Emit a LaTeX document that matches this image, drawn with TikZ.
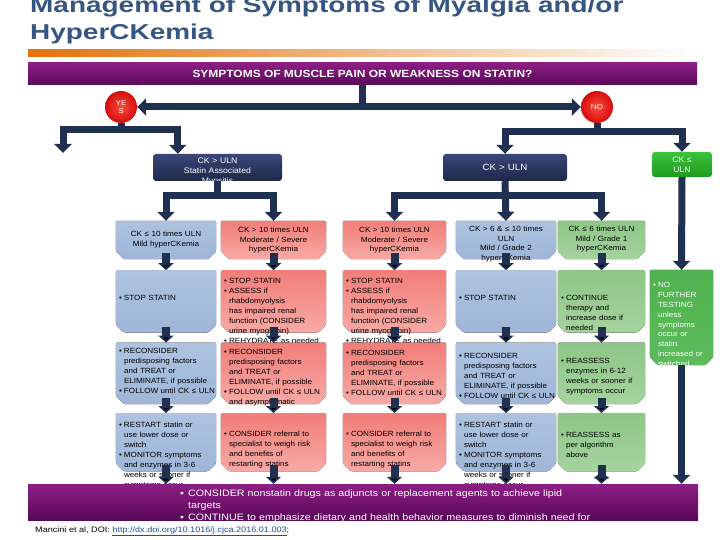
\documentclass[tikz,border=0pt]{standalone}
\usepackage{fontspec}
\setmainfont{Liberation Sans}[FakeStretch=1.15]
\newfontfamily\titleFont{Liberation Sans}[FakeStretch=1.3]
\newfontfamily\cellFont{Liberation Sans}[FakeStretch=1.08]
\usepackage{tikz}
\usetikzlibrary{
  arrows.meta,
  positioning
}
\usepackage{xcolor}
\definecolor{navyArrow}{HTML}{1F3050}
\definecolor{navyTop}{HTML}{3A4778}
\definecolor{navyBot}{HTML}{1D2749}
\definecolor{titleBlue}{HTML}{365682}
\definecolor{barTop}{HTML}{8C1E84}
\definecolor{barBot}{HTML}{5A0858}
\definecolor{blueTop}{HTML}{ADC3E0}
\definecolor{blueBot}{HTML}{9FB6D8}
\definecolor{pinkTop}{HTML}{F27D78}
\definecolor{pinkBot}{HTML}{F7AAA6}
\definecolor{greenTop}{HTML}{8DC786}
\definecolor{greenBot}{HTML}{A6D39F}
\definecolor{grassTop}{HTML}{4EB24E}
\definecolor{grassBot}{HTML}{5DBB5B}
\definecolor{limeTop}{HTML}{3CC23C}
\definecolor{limeBot}{HTML}{1E9A1E}
\definecolor{ballIn}{HTML}{FF4A3A}
\definecolor{ballOut}{HTML}{D40E0E}
\definecolor{orangeLine}{HTML}{E3720C}
\definecolor{linkBlue}{HTML}{1F4E9E}
\newcommand{\bul}[1]{\leftskip=3pt\hangindent=5pt\hangafter=1\makebox[5pt][l]{\textbullet}#1\par}
\newcommand{\barItem}[1]{\hangindent=8pt\hangafter=1\makebox[8pt][l]{▪}#1\par}
% box with cut lower corners, then its text
\newcommand{\flowCell}[8]{%
  \node[cellBase, minimum width=#4pt, minimum height=#5pt, #3] (#1) {};
  \fill[#2, rounded corners=1.5pt] (#1.north west) -- (#1.north east)
    -- ([yshift=8pt]#1.south east) -- ([xshift=-8pt]#1.south east)
    -- ([xshift=8pt]#1.south west) -- ([yshift=8pt]#1.south west) -- cycle;
  \node[#6, text width=#4pt, anchor=base] (#1t) at ([yshift=-#7pt]#1.north) {#8};
}
% rounded box, then its text
\newcommand{\ckCell}[8]{%
  \node[cellBase, rounded corners=3pt, #2, minimum width=#4pt, minimum height=#5pt, #3] (#1) {};
  \node[#6, text width=#4pt, anchor=base] (#1t) at ([yshift=-#7pt]#1.north) {#8};
}
\tikzset{
  cellBase/.style={rectangle, inner sep=0pt},
  blueFill/.style={top color=blueTop, bottom color=blueBot},
  pinkFill/.style={top color=pinkTop, bottom color=pinkBot},
  greenFill/.style={top color=greenTop, bottom color=greenBot},
  grassFill/.style={top color=grassTop, bottom color=grassBot},
  navyFill/.style={top color=navyTop, bottom color=navyBot},
  limeFill/.style={top color=limeTop, bottom color=limeBot},
  leftText/.style={inner sep=0pt, font=\cellFont\fontsize{7.5}{10}\selectfont, align=left},
  midText/.style={inner sep=0pt, font=\cellFont\fontsize{7.5}{9.5}\selectfont, align=center},
  whiteText/.style={midText, text=white, font=\cellFont\fontsize{8}{10}\selectfont},
  ball/.style={circle, minimum size=32pt, inner sep=0pt, inner color=ballIn,
    outer color=ballOut, text=white, align=center,
    font=\fontsize{7}{7.5}\selectfont},
  purpleBar/.style={rectangle, inner sep=0pt, top color=barTop, bottom color=barBot},
  conn/.style={draw=navyArrow, line width=7pt},
  connTip/.style={conn, -{Triangle[width=17pt,length=9pt]}},
  stepTip/.style={draw=navyArrow, line width=8pt,
    -{Triangle[width=15pt,length=7pt]}, shorten <=-6pt}
}

\begin{document}
\begin{tikzpicture}[
    x=1pt, y=-1pt,
    node distance=10pt
  ]
  \path[use as bounding box, fill=white] (0,0) rectangle (720,540);

  % title
  \node[inner sep=0pt, anchor=base west, text=titleBlue,
    font=\titleFont\bfseries\fontsize{21.5}{26}\selectfont]
    (title1) at (30,13) {Management of Symptoms of Myalgia and/or};
  \node[inner sep=0pt, anchor=base west, text=titleBlue,
    font=\titleFont\bfseries\fontsize{21.5}{26}\selectfont]
    (title2) at (30,39.5) {HyperCKemia};
  \fill[left color=orangeLine, middle color=orangeLine!70!white, right color=white]
    (28,50) rectangle (693,57);

  % question
  \node[purpleBar, minimum width=669pt, minimum height=22pt, text=white,
    font=\bfseries\fontsize{10.4}{12}\selectfont]
    (hdr) at (362.5,74) {SYMPTOMS OF MUSCLE PAIN OR WEAKNESS ON STATIN?};
  \node[ball] (yes) at (121,107) {YE\\S};
  \node[ball] (no) at (597,107) {NO};

  % CK level
  \ckCell{myo}{navyFill}{at={(217.5,167.5)}}{129}{27}{whiteText}{10}
    {CK > ULN\\Statin Associated\\Myositis}
  \ckCell{ckr}{navyFill}{at={(505,167.5)}}{124}{27}{whiteText, font=\cellFont\fontsize{9}{10}\selectfont}{16.5}
    {CK > ULN}
  \ckCell{ckn}{limeFill}{at={(682,164.5)}}{60}{25}{whiteText, font=\cellFont\fontsize{8}{9.5}\selectfont}{11}
    {CK ≤\\ULN}

  % row 1
  \flowCell{a1}{blueFill}{at={(166,240)}}{100}{38}{midText}{16}
    {CK ≤ 10 times ULN\\Mild hyperCKemia}
  \flowCell{a2}{pinkFill}{at={(273.5,240)}}{105}{38}{midText}{12}
    {CK > 10 times ULN\\Moderate / Severe\\hyperCKemia}
  \flowCell{b1}{pinkFill}{at={(394.5,240)}}{103}{38}{midText}{12}
    {CK > 10 times ULN\\Moderate / Severe\\hyperCKemia}
  \flowCell{b2}{blueFill}{at={(506,240)}}{100}{38}{midText}{11}
    {CK > 6 \& ≤ 10 times\\ULN\\Mild / Grade 2\\hyperCKemia}
  \flowCell{b3}{greenFill}{at={(601.5,240)}}{87}{38}{midText}{11}
    {CK ≤ 6 times ULN\\Mild / Grade 1\\hyperCKemia}

  % row 2
  \flowCell{a1s}{blueFill}{below=11pt of a1}{100}{62}{leftText}{30}
    {\bul{STOP STATIN}}
  \flowCell{a2s}{pinkFill}{below=11pt of a2}{105}{62}{leftText}{13}
    {\bul{STOP STATIN}\bul{ASSESS if\newline rhabdomyolysis\newline has impaired renal\newline
     function (CONSIDER\newline urine myoglobin)}\bul{REHYDRATE as needed}}
  \flowCell{b1s}{pinkFill}{below=11pt of b1}{103}{62}{leftText}{13}
    {\bul{STOP STATIN}\bul{ASSESS if\newline rhabdomyolysis\newline has impaired renal\newline
     function (CONSIDER\newline urine myoglobin)}\bul{REHYDRATE as needed}}
  \flowCell{b2s}{blueFill}{below=11pt of b2}{100}{62}{leftText}{30}
    {\bul{STOP STATIN}}
  \flowCell{b3s}{greenFill}{below=11pt of b3}{87}{62}{leftText}{30}
    {\bul{CONTINUE\newline therapy and\newline increase dose if\newline needed}}

  % row 3
  \flowCell{a1r}{blueFill}{below=10pt of a1s}{100}{61}{leftText}{11}
    {\bul{RECONSIDER\newline predisposing factors\newline and TREAT or\newline
     ELIMINATE, if possible}\bul{FOLLOW until CK ≤ ULN}}
  \flowCell{a2r}{pinkFill}{below=10pt of a2s}{105}{61}{leftText}{12}
    {\bul{RECONSIDER\newline predisposing factors\newline and TREAT or\newline
     ELIMINATE, if possible}\bul{FOLLOW until CK ≤ ULN\newline and asymptomatic}}
  \flowCell{b1r}{pinkFill}{below=10pt of b1s}{103}{61}{leftText}{13}
    {\bul{RECONSIDER\newline predisposing factors\newline and TREAT or\newline
     ELIMINATE, if possible}\bul{FOLLOW until CK ≤ ULN}}
  \flowCell{b2r}{blueFill}{below=10pt of b2s}{100}{61}{leftText}{16}
    {\bul{RECONSIDER\newline predisposing factors\newline and TREAT or\newline
     ELIMINATE, if possible}\bul{FOLLOW until CK ≤ ULN}}
  \flowCell{b3r}{greenFill}{below=10pt of b3s}{87}{61}{leftText}{21}
    {\bul{REASSESS\newline enzymes in 6-12\newline weeks or sooner if\newline symptoms occur}}

  % row 4
  \flowCell{a1c}{blueFill}{below=9pt of a1r}{100}{58}{leftText}{14}
    {\bul{RESTART statin or\newline use lower dose or\newline switch}\bul{MONITOR symptoms\newline
     and enzymes in 3-6\newline weeks or sooner if\newline symptoms occur}}
  \flowCell{a2c}{pinkFill}{below=9pt of a2r}{105}{58}{leftText}{23}
    {\bul{CONSIDER referral to\newline specialist to weigh risk\newline and benefits of\newline
     restarting statins}}
  \flowCell{b1c}{pinkFill}{below=9pt of b1r}{103}{58}{leftText}{23}
    {\bul{CONSIDER referral to\newline specialist to weigh risk\newline and benefits of\newline
     restarting statins}}
  \flowCell{b2c}{blueFill}{below=9pt of b2r}{100}{58}{leftText}{14}
    {\bul{RESTART statin or\newline use lower dose or\newline switch}\bul{MONITOR symptoms\newline
     and enzymes in 3-6\newline weeks or sooner if\newline symptoms occur}}
  \flowCell{b3c}{greenFill}{below=9pt of b3r}{87}{58}{leftText}{24}
    {\bul{REASSESS as\newline per algorithm\newline above}}

  \flowCell{cbox}{grassFill}{at={(681.5,317.5)}}{63}{95}
    {leftText, text=white, font=\cellFont\fontsize{7.5}{9.8}\selectfont}{18}
    {\bul{NO\newline FURTHER\newline TESTING\newline unless\newline symptoms\newline occur or\newline
     statin\newline increased or\newline switched}}

  % bottom bar
  \node[purpleBar, minimum width=670pt, minimum height=36pt] (bar) at (363,502) {};
  \begin{scope}
    \clip (bar.south west) rectangle (bar.north east);
    \node[inner sep=0pt, text width=430pt, align=left, anchor=base west, text=white,
      font=\fontsize{9.3}{12}\selectfont] (barT) at (180,496.5)
      {\barItem{CONSIDER nonstatin drugs as adjuncts or replacement agents to achieve lipid\newline targets}%
       \barItem{CONTINUE to emphasize dietary and health behavior measures to diminish need for}};
  \end{scope}
  \node[inner sep=0pt, anchor=base west, font=\fontsize{7.9}{9}\selectfont] (cite) at (35,532.5)
    {Mancini et al, DOI: \textcolor{linkBlue}{\underline{http://dx.doi.org/10.1016/j.cjca.2016.01.003}};};

  % connectors
  \coordinate[below=6pt of yes] (yesFork);
  \coordinate[below=8pt of no] (noFork);
  \coordinate[below=14pt of myo] (myoFork);
  \coordinate[below=14pt of ckr] (ckrFork);
  \coordinate (yesLeft) at (63,153);
  \coordinate (myoIn) at ([xshift=25pt]myo.north west);

  \draw[connTip] (hdr.south) |- (yes.east);
  \draw[connTip] (hdr.south) |- (no.west);
  \draw[conn] (yes.south) -- (yesFork);
  \draw[connTip] (yesFork) -| (yesLeft);
  \draw[connTip] (yesFork) -| (myoIn);
  \draw[conn] (no.south) -- (noFork);
  \draw[connTip] (noFork) -| (ckr.north);
  \draw[connTip] (noFork) -| (ckn.north);
  \draw[conn] (myo.south) -- (myoFork);
  \draw[connTip] (myoFork) -| (a1.north);
  \draw[connTip] (myoFork) -| (a2.north);
  \draw[connTip] (ckr.south) -- (b2.north);
  \draw[connTip] (ckrFork) -| (b1.north);
  \draw[connTip] (ckrFork) -| (b3.north);
  \draw[connTip] (ckn.south) -- (cbox.north);
  \draw[connTip] (cbox.south) -- (cbox.south |- bar.north);

  \path[stepTip]
  (a1.south)  edge (a1s.north)
  (a1s.south) edge (a1r.north)
  (a1r.south) edge (a1c.north)
  (a1c.south) edge (a1c.south |- bar.north)
  (a2.south)  edge (a2s.north)
  (a2s.south) edge (a2r.north)
  (a2r.south) edge (a2c.north)
  (a2c.south) edge (a2c.south |- bar.north)
  (b1.south)  edge (b1s.north)
  (b1s.south) edge (b1r.north)
  (b1r.south) edge (b1c.north)
  (b1c.south) edge (b1c.south |- bar.north)
  (b2.south)  edge (b2s.north)
  (b2s.south) edge (b2r.north)
  (b2r.south) edge (b2c.north)
  (b2c.south) edge (b2c.south |- bar.north)
  (b3.south)  edge (b3s.north)
  (b3s.south) edge (b3r.north)
  (b3r.south) edge (b3c.north)
  (b3c.south) edge (b3c.south |- bar.north)
  ;
\end{tikzpicture}
\end{document}
